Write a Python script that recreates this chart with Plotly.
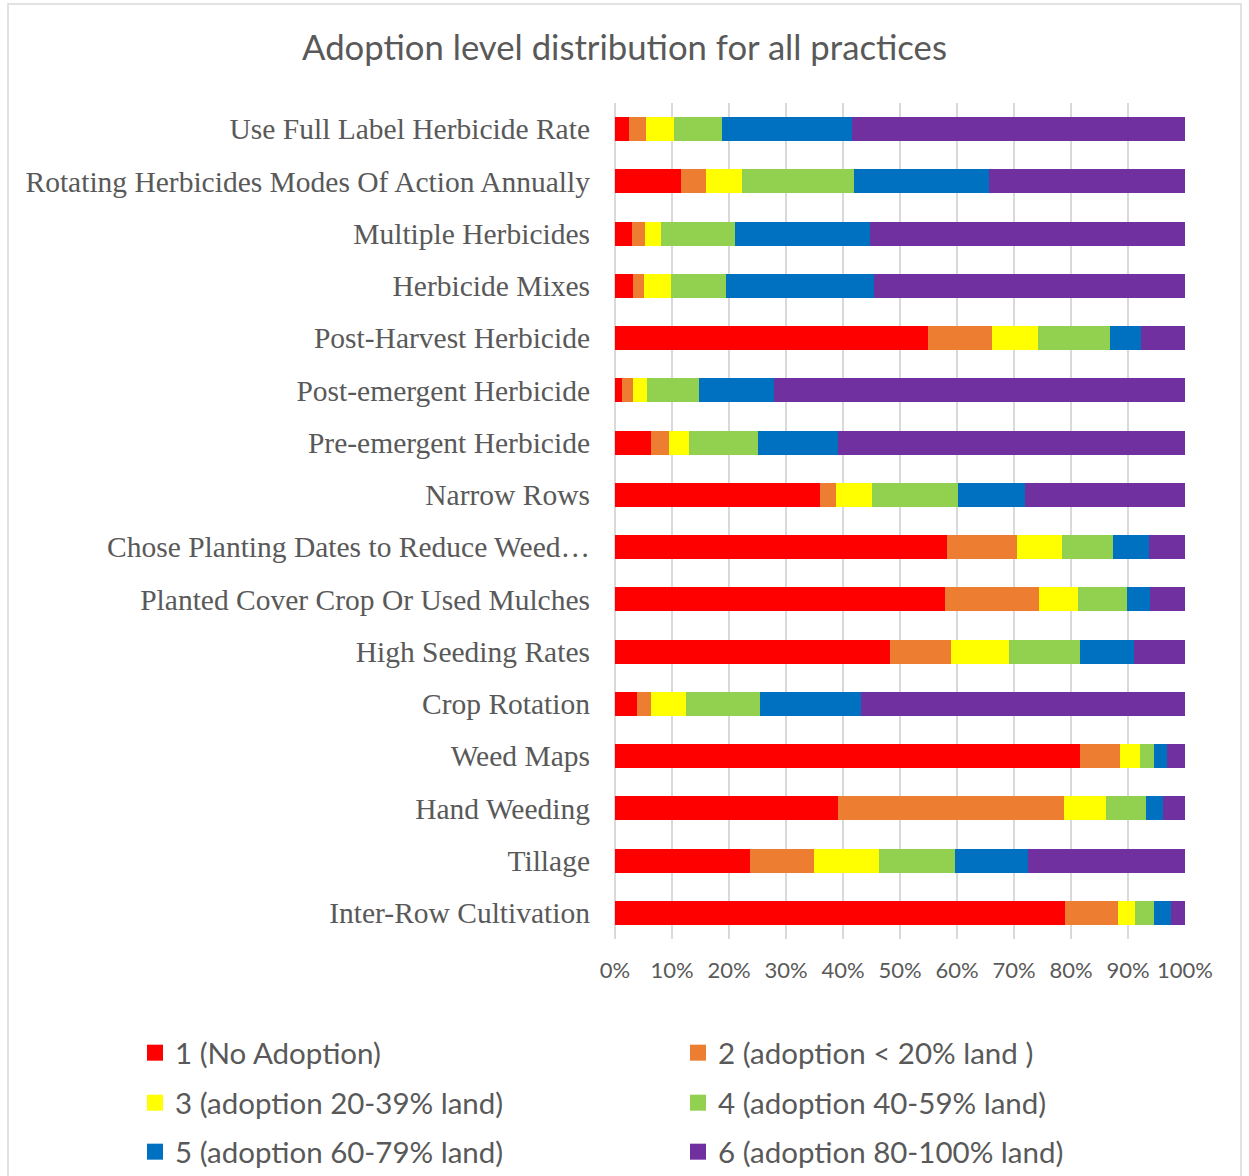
import plotly.graph_objects as go

# Practices, listed top to bottom
practices = [
    "Use Full Label Herbicide Rate",
    "Rotating Herbicides Modes Of Action Annually",
    "Multiple Herbicides",
    "Herbicide Mixes",
    "Post-Harvest Herbicide",
    "Post-emergent Herbicide",
    "Pre-emergent Herbicide",
    "Narrow Rows",
    "Chose Planting Dates to Reduce Weed…",
    "Planted Cover Crop Or Used Mulches",
    "High Seeding Rates",
    "Crop Rotation",
    "Weed Maps",
    "Hand Weeding",
    "Tillage",
    "Inter-Row Cultivation",
]

# Share of respondents (%) at each adoption level, one list per level
level_1 = [2.4, 11.6, 3.0, 3.2, 54.9, 1.2, 6.4, 36.0, 58.3, 57.9, 48.3, 3.8, 81.6, 39.1, 23.7, 79.0]
level_2 = [3.0, 4.4, 2.3, 1.9, 11.2, 1.9, 3.0, 2.8, 12.3, 16.4, 10.7, 2.6, 7.0, 39.6, 11.2, 9.2]
level_3 = [4.9, 6.2, 2.8, 4.8, 8.1, 2.6, 3.6, 6.2, 7.8, 6.9, 10.1, 6.1, 3.5, 7.5, 11.5, 3.0]
level_4 = [8.4, 19.7, 13.0, 9.5, 12.6, 9.1, 12.1, 15.1, 8.9, 8.6, 12.4, 12.9, 2.4, 6.9, 13.3, 3.3]
level_5 = [22.8, 23.7, 23.7, 26.1, 5.5, 13.1, 14.1, 11.8, 6.3, 4.0, 9.5, 17.7, 2.3, 3.0, 12.8, 3.1]
level_6 = [58.5, 34.4, 55.2, 54.5, 7.7, 72.1, 60.8, 28.1, 6.4, 6.2, 9.0, 56.9, 3.2, 3.9, 27.5, 2.4]

level_names = [
    "1 (No Adoption)",
    "2 (adoption < 20% land )",
    "3 (adoption 20-39% land)",
    "4 (adoption 40-59% land)",
    "5 (adoption 60-79% land)",
    "6 (adoption 80-100% land)",
]
level_colors = ["#FF0000", "#ED7D31", "#FFFF00", "#92D050", "#0070C0", "#7030A0"]
level_values = [level_1, level_2, level_3, level_4, level_5, level_6]

W, H = 1249, 1176
L, R, T, B = 615, 64, 103, 237
PW, PH = W - L - R, H - T - B

TEXT = "#595959"
GRID = "#D9D9D9"

fig = go.Figure()

for name, color, vals in zip(level_names, level_colors, level_values):
    fig.add_trace(go.Bar(
        x=vals, y=practices, orientation="h", name=name,
        marker=dict(color=color, line=dict(width=0)),
        showlegend=False, hoverinfo="x+y+name",
    ))

# Legend: two columns, three rows
legend_ids = ["legend", "legend", "legend2", "legend2", "legend3", "legend3"]
for name, color, lid in zip(level_names, level_colors, legend_ids):
    fig.add_trace(go.Scatter(
        x=[None], y=[None], mode="markers", name=name,
        marker=dict(symbol="square", size=18, color=color),
        legend=lid,
    ))

def px_x(px):
    return (px - L) / PW

def px_y(py):
    return (H - B - py) / PH

legend_style = dict(
    orientation="h", xref="paper", yref="paper", traceorder="normal",
    x=px_x(135), xanchor="left", yanchor="middle",
    entrywidth=498, entrywidthmode="pixels",
    font=dict(family="Lato", size=29.5, color=TEXT),
    bgcolor="rgba(0,0,0,0)", borderwidth=0,
    itemclick=False, itemdoubleclick=False,
)

fig.update_layout(
    width=W, height=H,
    margin=dict(l=L, r=R, t=T, b=B, autoexpand=False),
    paper_bgcolor="white", plot_bgcolor="white",
    barmode="stack", barnorm="percent", bargap=0.54,
    title=dict(
        text="Adoption level distribution for all practices",
        font=dict(family="Lato", size=34.7, color=TEXT),
        xref="container", x=0.5, xanchor="center",
        yref="container", y=1 - 48 / H, yanchor="middle",
    ),
    xaxis=dict(
        range=[0, 100], dtick=10, ticksuffix="%",
        showgrid=True, gridcolor=GRID, gridwidth=1.5,
        zeroline=True, zerolinecolor=GRID, zerolinewidth=1.5,
        showline=False, ticks="",
        tickfont=dict(family="Lato", size=22, color=TEXT),
        ticklabelstandoff=16,
        fixedrange=True,
    ),
    yaxis=dict(
        autorange="reversed", showgrid=False, zeroline=False,
        showline=False, ticks="",
        tickfont=dict(family="Liberation Serif", size=29.5, color=TEXT),
        ticklabelstandoff=24,
        fixedrange=True,
    ),
    legend=dict(legend_style, y=px_y(1053)),
    legend2=dict(legend_style, y=px_y(1103)),
    legend3=dict(legend_style, y=px_y(1152)),
    shapes=[dict(
        type="rect", xref="paper", yref="paper", layer="below",
        x0=px_x(8), x1=px_x(1241), y0=px_y(1190), y1=px_y(4),
        line=dict(color=GRID, width=1.5), fillcolor="rgba(0,0,0,0)",
    )],
)

fig.write_html("out.html")
